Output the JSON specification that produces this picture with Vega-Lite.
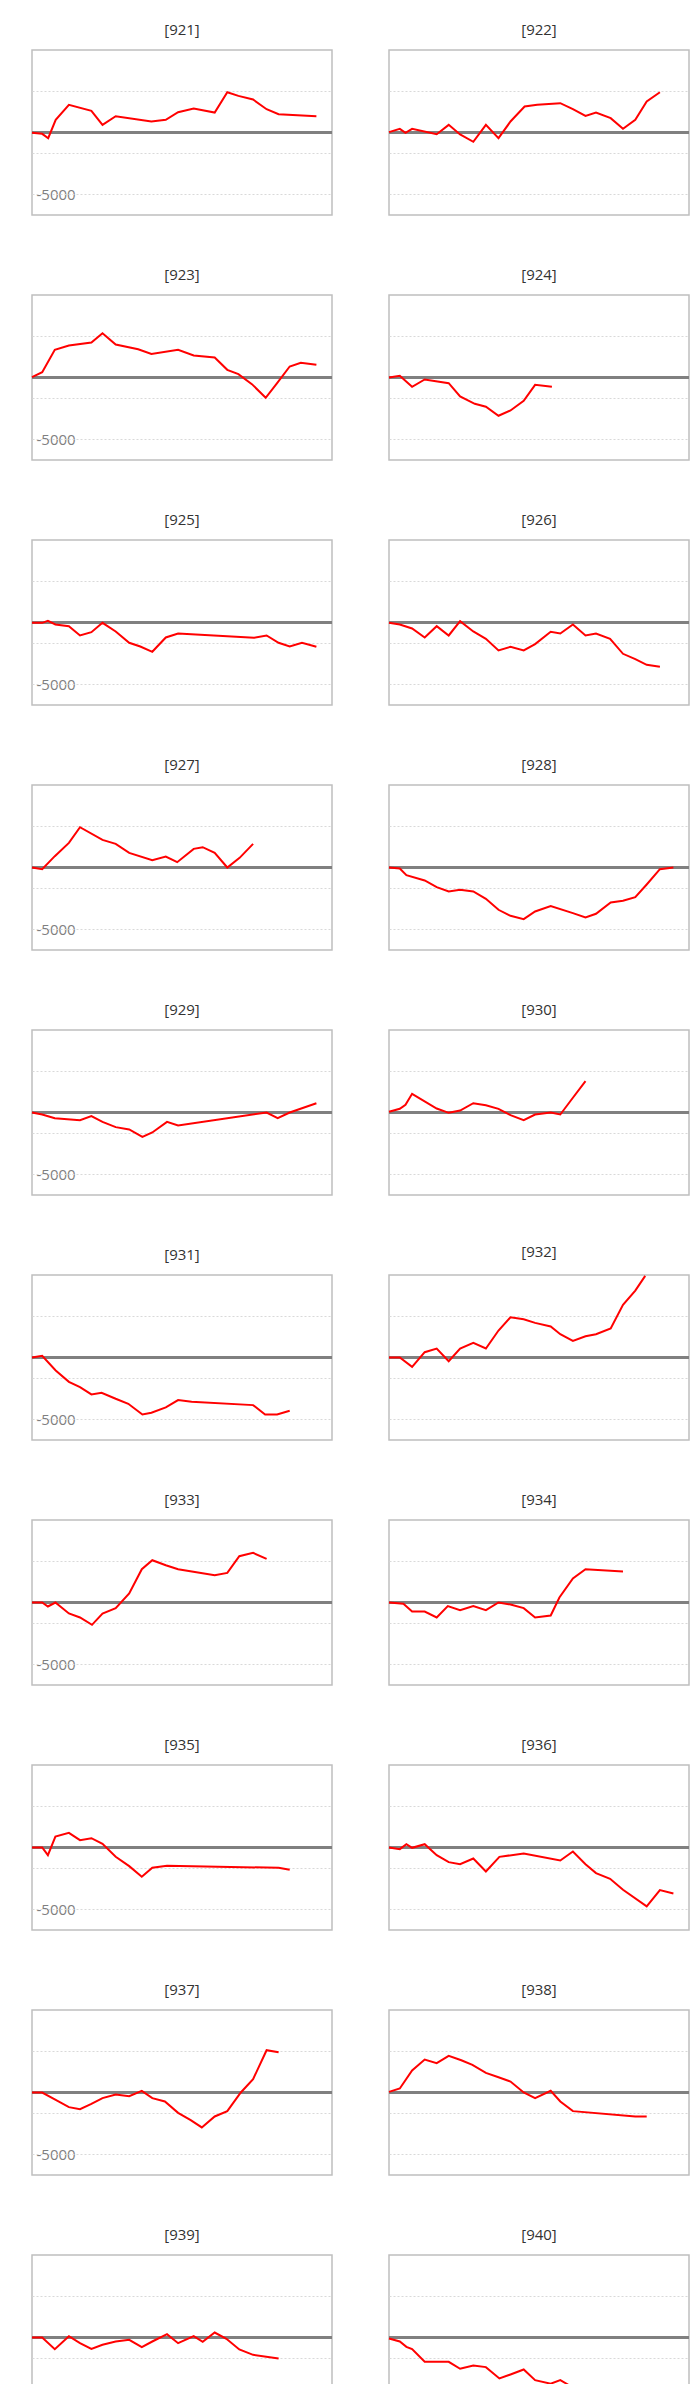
{
  "$schema": "https://vega.github.io/schema/vega-lite/v6.json",
  "padding": {"left": 27, "top": 22, "right": 0, "bottom": 0},
  "config": {
    "font": "Open Sans",
    "view": {"stroke": "#bfbfbf", "strokeWidth": 1.5},
    "facet": {"spacing": {"row": 46, "column": 50}}
  },
  "data": {"values": [
    {"id":"[921]","x":0,"y":-27},{"id":"[921]","x":3.4,"y":-108},{"id":"[921]","x":5.4,"y":-460},{"id":"[921]","x":7.9,"y":1022},{"id":"[921]","x":12.3,"y":2233},{"id":"[921]","x":19.8,"y":1748},{"id":"[921]","x":23.5,"y":619},{"id":"[921]","x":27.9,"y":1318},{"id":"[921]","x":39.8,"y":888},{"id":"[921]","x":44.6,"y":1022},{"id":"[921]","x":48.7,"y":1641},{"id":"[921]","x":53.9,"y":1937},{"id":"[921]","x":60.9,"y":1614},{"id":"[921]","x":65.1,"y":3255},{"id":"[921]","x":68.8,"y":2959},{"id":"[921]","x":73.7,"y":2663},{"id":"[921]","x":78.2,"y":1883},{"id":"[921]","x":82.2,"y":1480},{"id":"[921]","x":94.8,"y":1318},
    {"id":"[922]","x":0,"y":27},{"id":"[922]","x":3.6,"y":296},{"id":"[922]","x":5.5,"y":-27},{"id":"[922]","x":7.7,"y":296},{"id":"[922]","x":15.9,"y":-135},{"id":"[922]","x":19.9,"y":619},{"id":"[922]","x":23.7,"y":-161},{"id":"[922]","x":28.1,"y":-753},{"id":"[922]","x":32.3,"y":619},{"id":"[922]","x":36.5,"y":-457},{"id":"[922]","x":40.5,"y":888},{"id":"[922]","x":45.2,"y":2098},{"id":"[922]","x":49.4,"y":2233},{"id":"[922]","x":57.1,"y":2367},{"id":"[922]","x":61.3,"y":1883},{"id":"[922]","x":65.5,"y":1345},{"id":"[922]","x":69.0,"y":1614},{"id":"[922]","x":73.9,"y":1157},{"id":"[922]","x":78.0,"y":296},{"id":"[922]","x":82.1,"y":1022},{"id":"[922]","x":85.9,"y":2502},{"id":"[922]","x":90.3,"y":3255},
    {"id":"[923]","x":0,"y":27},{"id":"[923]","x":3.4,"y":430},{"id":"[923]","x":7.6,"y":2233},{"id":"[923]","x":12.3,"y":2583},{"id":"[923]","x":19.8,"y":2825},{"id":"[923]","x":23.5,"y":3578},{"id":"[923]","x":27.9,"y":2663},{"id":"[923]","x":35.4,"y":2287},{"id":"[923]","x":39.8,"y":1910},{"id":"[923]","x":48.7,"y":2233},{"id":"[923]","x":53.9,"y":1775},{"id":"[923]","x":60.9,"y":1614},{"id":"[923]","x":65.1,"y":619},{"id":"[923]","x":68.8,"y":269},{"id":"[923]","x":73.3,"y":-538},{"id":"[923]","x":77.9,"y":-1641},{"id":"[923]","x":81.7,"y":-457},{"id":"[923]","x":85.9,"y":888},{"id":"[923]","x":89.6,"y":1184},{"id":"[923]","x":94.8,"y":1022},
    {"id":"[924]","x":0,"y":0},{"id":"[924]","x":3.6,"y":135},{"id":"[924]","x":7.7,"y":-753},{"id":"[924]","x":11.9,"y":-161},{"id":"[924]","x":19.9,"y":-457},{"id":"[924]","x":23.7,"y":-1533},{"id":"[924]","x":28.6,"y":-2125},{"id":"[924]","x":32.3,"y":-2367},{"id":"[924]","x":36.5,"y":-3094},{"id":"[924]","x":40.5,"y":-2663},{"id":"[924]","x":44.9,"y":-1883},{"id":"[924]","x":48.7,"y":-592},{"id":"[924]","x":54.3,"y":-753},
    {"id":"[925]","x":0,"y":-27},{"id":"[925]","x":3.4,"y":-27},{"id":"[925]","x":5.3,"y":135},{"id":"[925]","x":7.8,"y":-161},{"id":"[925]","x":12.3,"y":-296},{"id":"[925]","x":16.0,"y":-1049},{"id":"[925]","x":19.8,"y":-780},{"id":"[925]","x":23.5,"y":-27},{"id":"[925]","x":27.9,"y":-726},{"id":"[925]","x":32.4,"y":-1641},{"id":"[925]","x":36.1,"y":-1937},{"id":"[925]","x":40.1,"y":-2367},{"id":"[925]","x":44.6,"y":-1210},{"id":"[925]","x":48.7,"y":-888},{"id":"[925]","x":74.0,"y":-1237},{"id":"[925]","x":78.2,"y":-1049},{"id":"[925]","x":82.2,"y":-1641},{"id":"[925]","x":85.9,"y":-1937},{"id":"[925]","x":90.0,"y":-1641},{"id":"[925]","x":94.8,"y":-1964},
    {"id":"[926]","x":0,"y":-27},{"id":"[926]","x":3.6,"y":-161},{"id":"[926]","x":7.7,"y":-484},{"id":"[926]","x":11.9,"y":-1210},{"id":"[926]","x":15.9,"y":-296},{"id":"[926]","x":19.9,"y":-1049},{"id":"[926]","x":23.7,"y":108},{"id":"[926]","x":28.1,"y":-726},{"id":"[926]","x":32.3,"y":-1318},{"id":"[926]","x":36.5,"y":-2260},{"id":"[926]","x":40.5,"y":-1964},{"id":"[926]","x":44.9,"y":-2260},{"id":"[926]","x":48.7,"y":-1749},{"id":"[926]","x":53.9,"y":-753},{"id":"[926]","x":57.1,"y":-888},{"id":"[926]","x":61.3,"y":-161},{"id":"[926]","x":65.5,"y":-1049},{"id":"[926]","x":69.0,"y":-888},{"id":"[926]","x":73.7,"y":-1318},{"id":"[926]","x":78.0,"y":-2529},{"id":"[926]","x":82.1,"y":-2959},{"id":"[926]","x":85.9,"y":-3416},{"id":"[926]","x":90.3,"y":-3578},
    {"id":"[927]","x":0,"y":0},{"id":"[927]","x":3.4,"y":-135},{"id":"[927]","x":7.6,"y":915},{"id":"[927]","x":12.3,"y":1991},{"id":"[927]","x":16.0,"y":3255},{"id":"[927]","x":23.5,"y":2233},{"id":"[927]","x":27.9,"y":1910},{"id":"[927]","x":32.4,"y":1184},{"id":"[927]","x":40.1,"y":592},{"id":"[927]","x":44.6,"y":888},{"id":"[927]","x":48.4,"y":430},{"id":"[927]","x":53.9,"y":1507},{"id":"[927]","x":56.9,"y":1641},{"id":"[927]","x":60.9,"y":1184},{"id":"[927]","x":65.1,"y":0},{"id":"[927]","x":69.2,"y":780},{"id":"[927]","x":73.7,"y":1910},
    {"id":"[928]","x":0,"y":0},{"id":"[928]","x":3.6,"y":-81},{"id":"[928]","x":5.8,"y":-619},{"id":"[928]","x":11.9,"y":-1049},{"id":"[928]","x":15.9,"y":-1587},{"id":"[928]","x":19.9,"y":-1937},{"id":"[928]","x":23.7,"y":-1803},{"id":"[928]","x":28.1,"y":-1937},{"id":"[928]","x":32.3,"y":-2529},{"id":"[928]","x":36.5,"y":-3416},{"id":"[928]","x":40.5,"y":-3901},{"id":"[928]","x":44.9,"y":-4170},{"id":"[928]","x":48.7,"y":-3551},{"id":"[928]","x":53.9,"y":-3121},{"id":"[928]","x":61.3,"y":-3686},{"id":"[928]","x":65.5,"y":-4035},{"id":"[928]","x":69.0,"y":-3739},{"id":"[928]","x":73.9,"y":-2825},{"id":"[928]","x":78.0,"y":-2690},{"id":"[928]","x":82.1,"y":-2394},{"id":"[928]","x":85.9,"y":-1372},{"id":"[928]","x":90.3,"y":-135},{"id":"[928]","x":94.8,"y":0},
    {"id":"[929]","x":0,"y":0},{"id":"[929]","x":3.4,"y":-161},{"id":"[929]","x":7.6,"y":-457},{"id":"[929]","x":16.0,"y":-619},{"id":"[929]","x":19.8,"y":-296},{"id":"[929]","x":23.5,"y":-753},{"id":"[929]","x":27.9,"y":-1184},{"id":"[929]","x":32.4,"y":-1372},{"id":"[929]","x":36.8,"y":-1964},{"id":"[929]","x":40.1,"y":-1614},{"id":"[929]","x":45.0,"y":-753},{"id":"[929]","x":48.7,"y":-1049},{"id":"[929]","x":78.2,"y":0},{"id":"[929]","x":81.9,"y":-457},{"id":"[929]","x":85.9,"y":0},{"id":"[929]","x":94.8,"y":753},
    {"id":"[930]","x":0,"y":54},{"id":"[930]","x":3.6,"y":296},{"id":"[930]","x":5.5,"y":619},{"id":"[930]","x":7.7,"y":1507},{"id":"[930]","x":15.9,"y":323},{"id":"[930]","x":19.9,"y":-27},{"id":"[930]","x":23.7,"y":161},{"id":"[930]","x":28.1,"y":753},{"id":"[930]","x":32.3,"y":592},{"id":"[930]","x":36.5,"y":296},{"id":"[930]","x":40.5,"y":-215},{"id":"[930]","x":44.9,"y":-619},{"id":"[930]","x":48.7,"y":-161},{"id":"[930]","x":53.9,"y":0},{"id":"[930]","x":57.1,"y":-161},{"id":"[930]","x":60.6,"y":969},{"id":"[930]","x":65.5,"y":2529},
    {"id":"[931]","x":0,"y":0},{"id":"[931]","x":3.4,"y":135},{"id":"[931]","x":7.9,"y":-1049},{"id":"[931]","x":12.3,"y":-1964},{"id":"[931]","x":16.0,"y":-2394},{"id":"[931]","x":19.8,"y":-2986},{"id":"[931]","x":23.2,"y":-2852},{"id":"[931]","x":27.9,"y":-3336},{"id":"[931]","x":32.1,"y":-3739},{"id":"[931]","x":36.8,"y":-4600},{"id":"[931]","x":39.8,"y":-4466},{"id":"[931]","x":44.6,"y":-4035},{"id":"[931]","x":48.7,"y":-3443},{"id":"[931]","x":53.2,"y":-3578},{"id":"[931]","x":73.7,"y":-3847},{"id":"[931]","x":77.7,"y":-4600},{"id":"[931]","x":81.7,"y":-4600},{"id":"[931]","x":85.9,"y":-4304},
    {"id":"[932]","x":0,"y":0},{"id":"[932]","x":3.6,"y":0},{"id":"[932]","x":7.7,"y":-753},{"id":"[932]","x":11.9,"y":430},{"id":"[932]","x":15.9,"y":726},{"id":"[932]","x":19.9,"y":-296},{"id":"[932]","x":23.7,"y":726},{"id":"[932]","x":28.1,"y":1184},{"id":"[932]","x":32.3,"y":726},{"id":"[932]","x":36.5,"y":2179},{"id":"[932]","x":40.5,"y":3255},{"id":"[932]","x":44.9,"y":3094},{"id":"[932]","x":48.7,"y":2798},{"id":"[932]","x":53.9,"y":2502},{"id":"[932]","x":57.1,"y":1883},{"id":"[932]","x":61.3,"y":1345},{"id":"[932]","x":65.5,"y":1722},{"id":"[932]","x":69.0,"y":1883},{"id":"[932]","x":73.9,"y":2340},{"id":"[932]","x":78.0,"y":4250},{"id":"[932]","x":82.1,"y":5407},{"id":"[932]","x":85.4,"y":6600},
    {"id":"[933]","x":0,"y":0},{"id":"[933]","x":3.4,"y":0},{"id":"[933]","x":5.3,"y":-323},{"id":"[933]","x":7.8,"y":0},{"id":"[933]","x":12.3,"y":-888},{"id":"[933]","x":16.0,"y":-1210},{"id":"[933]","x":20.0,"y":-1803},{"id":"[933]","x":23.5,"y":-888},{"id":"[933]","x":27.9,"y":-457},{"id":"[933]","x":32.4,"y":726},{"id":"[933]","x":36.6,"y":2690},{"id":"[933]","x":40.1,"y":3416},{"id":"[933]","x":44.6,"y":3013},{"id":"[933]","x":48.7,"y":2690},{"id":"[933]","x":60.9,"y":2206},{"id":"[933]","x":65.1,"y":2394},{"id":"[933]","x":69.1,"y":3739},{"id":"[933]","x":73.7,"y":4008},{"id":"[933]","x":78.2,"y":3524},
    {"id":"[934]","x":0,"y":0},{"id":"[934]","x":4.8,"y":-108},{"id":"[934]","x":7.7,"y":-726},{"id":"[934]","x":11.9,"y":-726},{"id":"[934]","x":15.9,"y":-1210},{"id":"[934]","x":19.6,"y":-296},{"id":"[934]","x":23.7,"y":-619},{"id":"[934]","x":28.1,"y":-296},{"id":"[934]","x":32.3,"y":-619},{"id":"[934]","x":36.5,"y":0},{"id":"[934]","x":40.5,"y":-161},{"id":"[934]","x":44.9,"y":-457},{"id":"[934]","x":48.7,"y":-1210},{"id":"[934]","x":53.9,"y":-1049},{"id":"[934]","x":56.8,"y":404},{"id":"[934]","x":61.3,"y":1937},{"id":"[934]","x":65.5,"y":2690},{"id":"[934]","x":78.0,"y":2502},
    {"id":"[935]","x":0,"y":0},{"id":"[935]","x":3.4,"y":0},{"id":"[935]","x":5.3,"y":-619},{"id":"[935]","x":7.8,"y":888},{"id":"[935]","x":12.3,"y":1184},{"id":"[935]","x":16.0,"y":592},{"id":"[935]","x":19.8,"y":753},{"id":"[935]","x":23.5,"y":296},{"id":"[935]","x":27.9,"y":-753},{"id":"[935]","x":32.4,"y":-1507},{"id":"[935]","x":36.6,"y":-2367},{"id":"[935]","x":40.1,"y":-1641},{"id":"[935]","x":45.0,"y":-1480},{"id":"[935]","x":82.2,"y":-1641},{"id":"[935]","x":85.9,"y":-1803},
    {"id":"[936]","x":0,"y":0},{"id":"[936]","x":3.6,"y":-135},{"id":"[936]","x":5.8,"y":269},{"id":"[936]","x":7.7,"y":-27},{"id":"[936]","x":11.9,"y":269},{"id":"[936]","x":15.9,"y":-619},{"id":"[936]","x":19.9,"y":-1184},{"id":"[936]","x":23.7,"y":-1345},{"id":"[936]","x":28.1,"y":-888},{"id":"[936]","x":32.3,"y":-1937},{"id":"[936]","x":36.8,"y":-753},{"id":"[936]","x":44.9,"y":-484},{"id":"[936]","x":57.1,"y":-1049},{"id":"[936]","x":61.3,"y":-323},{"id":"[936]","x":65.5,"y":-1345},{"id":"[936]","x":69.0,"y":-2071},{"id":"[936]","x":73.7,"y":-2529},{"id":"[936]","x":78.0,"y":-3416},{"id":"[936]","x":85.9,"y":-4761},{"id":"[936]","x":90.3,"y":-3443},{"id":"[936]","x":94.8,"y":-3712},
    {"id":"[937]","x":0,"y":0},{"id":"[937]","x":3.4,"y":0},{"id":"[937]","x":7.9,"y":-592},{"id":"[937]","x":12.3,"y":-1184},{"id":"[937]","x":16.0,"y":-1345},{"id":"[937]","x":19.8,"y":-915},{"id":"[937]","x":23.5,"y":-457},{"id":"[937]","x":27.9,"y":-161},{"id":"[937]","x":32.4,"y":-296},{"id":"[937]","x":36.6,"y":135},{"id":"[937]","x":40.1,"y":-457},{"id":"[937]","x":44.3,"y":-726},{"id":"[937]","x":48.7,"y":-1641},{"id":"[937]","x":52.9,"y":-2233},{"id":"[937]","x":56.6,"y":-2825},{"id":"[937]","x":60.9,"y":-1937},{"id":"[937]","x":65.1,"y":-1507},{"id":"[937]","x":69.6,"y":0},{"id":"[937]","x":73.7,"y":1076},{"id":"[937]","x":78.2,"y":3416},{"id":"[937]","x":82.2,"y":3255},
    {"id":"[938]","x":0,"y":54},{"id":"[938]","x":3.6,"y":323},{"id":"[938]","x":7.7,"y":1776},{"id":"[938]","x":11.9,"y":2663},{"id":"[938]","x":15.9,"y":2367},{"id":"[938]","x":19.9,"y":2959},{"id":"[938]","x":24.1,"y":2609},{"id":"[938]","x":27.8,"y":2233},{"id":"[938]","x":32.3,"y":1587},{"id":"[938]","x":36.5,"y":1237},{"id":"[938]","x":40.5,"y":888},{"id":"[938]","x":44.9,"y":0},{"id":"[938]","x":48.7,"y":-457},{"id":"[938]","x":53.9,"y":135},{"id":"[938]","x":57.1,"y":-726},{"id":"[938]","x":61.3,"y":-1507},{"id":"[938]","x":82.1,"y":-1937},{"id":"[938]","x":85.9,"y":-1937},
    {"id":"[939]","x":0,"y":0},{"id":"[939]","x":3.4,"y":0},{"id":"[939]","x":7.6,"y":-942},{"id":"[939]","x":12.3,"y":108},{"id":"[939]","x":16.0,"y":-457},{"id":"[939]","x":19.8,"y":-915},{"id":"[939]","x":23.5,"y":-592},{"id":"[939]","x":27.9,"y":-323},{"id":"[939]","x":32.4,"y":-188},{"id":"[939]","x":36.6,"y":-780},{"id":"[939]","x":40.1,"y":-323},{"id":"[939]","x":45.0,"y":269},{"id":"[939]","x":48.7,"y":-457},{"id":"[939]","x":53.9,"y":108},{"id":"[939]","x":56.9,"y":-350},{"id":"[939]","x":60.9,"y":404},{"id":"[939]","x":64.8,"y":-108},{"id":"[939]","x":69.1,"y":-969},{"id":"[939]","x":73.7,"y":-1399},{"id":"[939]","x":82.2,"y":-1695},
    {"id":"[940]","x":0,"y":-81},{"id":"[940]","x":3.6,"y":-323},{"id":"[940]","x":5.8,"y":-753},{"id":"[940]","x":7.7,"y":-942},{"id":"[940]","x":11.9,"y":-1964},{"id":"[940]","x":19.9,"y":-1964},{"id":"[940]","x":23.7,"y":-2529},{"id":"[940]","x":28.1,"y":-2260},{"id":"[940]","x":32.3,"y":-2394},{"id":"[940]","x":36.8,"y":-3309},{"id":"[940]","x":40.5,"y":-2986},{"id":"[940]","x":44.9,"y":-2583},{"id":"[940]","x":48.7,"y":-3443},{"id":"[940]","x":53.9,"y":-3739},{"id":"[940]","x":57.1,"y":-3443},{"id":"[940]","x":61.3,"y":-4035},{"id":"[940]","x":65.5,"y":-5084},{"id":"[940]","x":69.0,"y":-5945},{"id":"[940]","x":73.7,"y":-6510},{"id":"[940]","x":78.0,"y":-5837},{"id":"[940]","x":82.1,"y":-4654},{"id":"[940]","x":85.9,"y":-4331}
  ]},
  "facet": {
    "field": "id",
    "type": "nominal",
    "header": {"title": null, "labelFontSize": 15, "labelColor": "#333333", "labelPadding": 12, "labelFont": "Open Sans"}
  },
  "columns": 2,
  "spec": {
    "width": 300,
    "height": 165,
    "layer": [
      {
        "mark": {"type": "rule", "color": "#808080", "strokeWidth": 2},
        "encoding": {"y": {"datum": 0, "type": "quantitative"}}
      },
      {
        "mark": {"type": "line", "color": "#ff0000", "strokeWidth": 2},
        "encoding": {
          "x": {"field": "x", "type": "quantitative", "scale": {"domain": [0, 100]}, "axis": null},
          "y": {
            "field": "y",
            "type": "quantitative",
            "scale": {"domain": [-6666.67, 6666.67], "nice": false},
            "axis": {
              "title": null,
              "values": [-5000, -3333.33, -1666.67, 1666.67, 3333.33, 5000],
              "labelExpr": "datum.value > 4000 ? '5000' : datum.value < -4000 ? '-5000' : (datum.value > 1000 && datum.value < 2000) ? '0' : ''",
              "domain": false,
              "ticks": false,
              "tickSize": 0,
              "labelAlign": "left",
              "labelPadding": -9,
              "labelFontSize": 15,
              "labelColor": "#7f7f7f",
              "labelFont": "Open Sans",
              "grid": true,
              "gridColor": "#d9d9d9",
              "gridDash": [2, 2],
              "gridWidth": 1
            }
          },
          "order": {"field": "x", "type": "quantitative"}
        }
      }
    ]
  }
}
